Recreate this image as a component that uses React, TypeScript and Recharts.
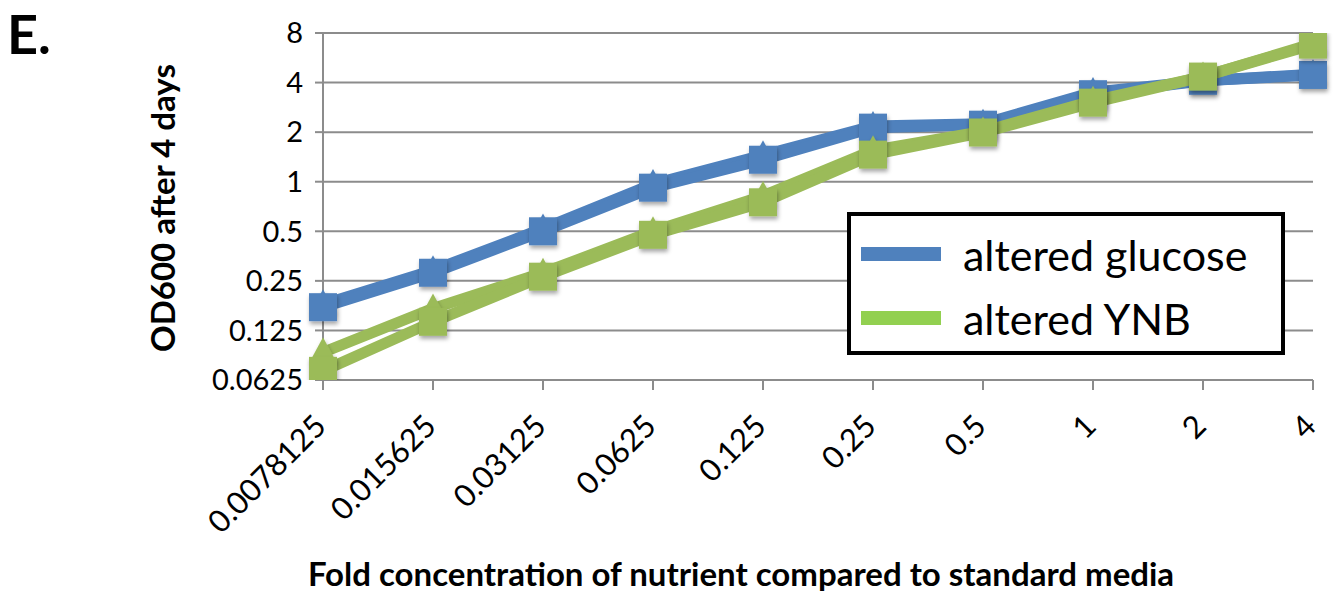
import { LineChart, Line, XAxis, YAxis, CartesianGrid } from "recharts"

// fold concentration of nutrient (x categories)
const folds = ["0.0078125", "0.015625", "0.03125", "0.0625", "0.125", "0.25", "0.5", "1", "2", "4"]

// OD600 after 4 days
const glucoseSquare = [0.173, 0.28, 0.5, 0.92, 1.36, 2.13, 2.22, 3.4, 4.1, 4.45]
const glucoseTriangle = [0.18, 0.29, 0.52, 0.97, 1.45, 2.18, 2.25, 3.5, 4.1, 4.5]
const ynbSquare = [0.071, 0.141, 0.265, 0.476, 0.75, 1.46, 1.99, 3.02, 4.35, 6.8]
const ynbTriangle = [0.092, 0.17, 0.28, 0.5, 0.82, 1.55, 2.02, 3.1, 4.35, 6.9]

const yTicks = [0.0625, 0.125, 0.25, 0.5, 1, 2, 4, 8]

const BLUE = "#4F81BD"
const GREEN = "#9BBB59"
const GREEN_KEY = "#92D050"
const GRID = "#8c8c8c"
const FONT = "Lato, 'Open Sans', sans-serif"

const data = folds.map((f, i) => ({
  fold: f,
  gSq: glucoseSquare[i],
  gTri: glucoseTriangle[i],
  ySq: ynbSquare[i],
  yTri: ynbTriangle[i],
}))

const squareDot = (color: string) => (props: any) => {
  const { cx, cy, index } = props
  return <rect key={index} x={cx - 14} y={cy - 14} width={28} height={28} fill={color} filter="url(#shadow)" />
}

const triangleDot = (color: string) => (props: any) => {
  const { cx, cy, index } = props
  return (
    <polygon
      key={index}
      points={`${cx},${cy - 15} ${cx + 13},${cy + 9} ${cx - 13},${cy + 9}`}
      fill={color}
      filter="url(#shadow)"
    />
  )
}

const XTick = (props: any) => {
  const { x, y, payload } = props
  const ax = x + 5
  const ay = y + 36
  return (
    <text
      x={ax}
      y={ay}
      transform={`rotate(-45 ${ax} ${ay})`}
      textAnchor="end"
      fontSize={31}
      fontFamily={FONT}
      fill="#000"
    >
      {payload.value}
    </text>
  )
}

const legendItems = [
  { name: "altered glucose", color: BLUE },
  { name: "altered YNB", color: GREEN_KEY },
]

export default function App() {
  return (
    <div style={{ position: "absolute", left: 0, top: 0, width: 1335, height: 594, background: "#fff", overflow: "hidden" }}>
      <LineChart width={1335} height={594} data={data} margin={{ top: 33, right: 22, bottom: 0, left: 0 }}>
        <defs>
          <filter id="shadow" x="-50%" y="-50%" width="200%" height="200%">
            <feDropShadow dx="1" dy="3" stdDeviation="2" floodColor="#000" floodOpacity="0.35" />
          </filter>
        </defs>
        <CartesianGrid vertical={false} stroke={GRID} strokeWidth={2} />
        <XAxis
          dataKey="fold"
          height={214}
          stroke={GRID}
          strokeWidth={2}
          tickSize={10}
          tick={<XTick />}
          interval={0}
        />
        <YAxis
          scale="log"
          domain={[0.0625, 8]}
          ticks={yTicks}
          interval={0}
          allowDataOverflow
          width={323}
          stroke={GRID}
          strokeWidth={2}
          tickSize={8}
          tickMargin={12}
          tick={{ fontSize: 29, fontFamily: FONT, fill: "#000" }}
        />
        <Line dataKey="gTri" stroke={BLUE} strokeWidth={11} dot={triangleDot(BLUE)} isAnimationActive={false} />
        <Line dataKey="gSq" stroke={BLUE} strokeWidth={11} dot={squareDot(BLUE)} isAnimationActive={false} />
        <Line dataKey="yTri" stroke={GREEN} strokeWidth={11} dot={triangleDot(GREEN)} isAnimationActive={false} />
        <Line dataKey="ySq" stroke={GREEN} strokeWidth={11} dot={squareDot(GREEN)} isAnimationActive={false} />
      </LineChart>

      {/* legend box */}
      <div
        style={{
          position: "absolute",
          left: 847,
          top: 212,
          width: 430,
          height: 135,
          border: "4px solid #000",
          background: "#fff",
          fontFamily: FONT,
          fontSize: 43,
        }}
      >
        {legendItems.map((item, i) => (
          <div key={item.name} style={{ position: "absolute", left: 0, top: i === 0 ? 10 : 74, height: 56, display: "flex", alignItems: "center" }}>
            <span style={{ display: "inline-block", width: 80, height: 14, background: item.color, marginLeft: 10, marginRight: 22 }} />
            <span>{item.name}</span>
          </div>
        ))}
      </div>

      <div style={{ position: "absolute", left: 7, top: 7, fontFamily: FONT, fontWeight: 700, fontSize: 54, lineHeight: "54px" }}>E.</div>
      <div
        style={{
          position: "absolute",
          left: 162,
          top: 208,
          transform: "translate(-50%, -50%) rotate(-90deg)",
          whiteSpace: "nowrap",
          fontFamily: FONT,
          fontWeight: 700,
          fontSize: 33,
        }}
      >
        OD600 after 4 days
      </div>
      <div
        style={{
          position: "absolute",
          left: 741,
          top: 573,
          transform: "translate(-50%, -50%)",
          whiteSpace: "nowrap",
          fontFamily: FONT,
          fontWeight: 700,
          fontSize: 33,
          lineHeight: "36px",
        }}
      >
        Fold concentration of nutrient compared to standard media
      </div>
    </div>
  )
}
